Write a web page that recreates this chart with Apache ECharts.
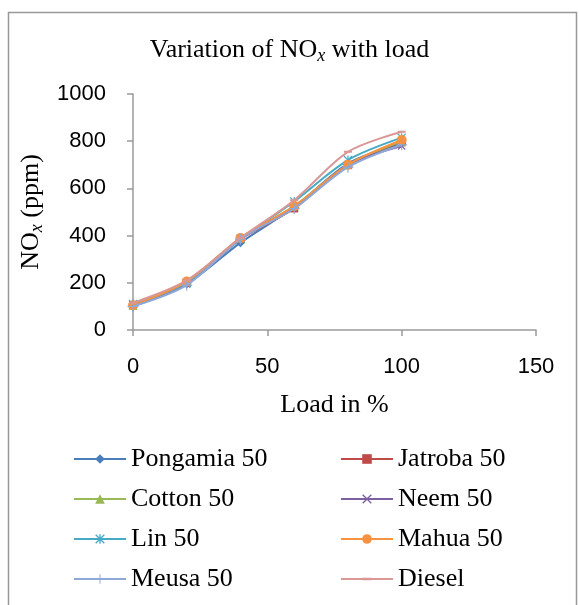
<!DOCTYPE html>
<html>
<head>
<meta charset="utf-8">
<script src="https://cdn.jsdelivr.net/npm/echarts@6/dist/echarts.min.js"></script>
<style>html,body{margin:0;padding:0;background:#fff;}#c{width:579px;height:605px;}</style>
</head>
<body>
<div id="c"></div>
<script>
var loads = [0, 20, 40, 60, 80, 100];
var seriesNames = ['Pongamia 50','Jatroba 50','Cotton 50','Neem 50','Lin 50','Mahua 50','Meusa 50','Diesel'];
var pongamia = [100, 195, 370, 520, 705, 790];
var jatroba  = [105, 200, 385, 515, 700, 795];
var cotton   = [105, 205, 390, 525, 700, 800];
var neem     = [105, 195, 390, 520, 700, 780];
var lin      = [110, 200, 385, 545, 720, 815];
var mahua    = [105, 205, 390, 525, 700, 805];
var meusa    = [100, 190, 385, 515, 690, 785];
var diesel   = [115, 210, 390, 550, 755, 840];
var xTicks = [0, 50, 100, 150];
var yTicks = [0, 200, 400, 600, 800, 1000];

var values = [pongamia, jatroba, cotton, neem, lin, mahua, meusa, diesel];
var colors = ['#4A7EBB','#BE4B48','#98B954','#7D60A0','#46AAC5','#F69240','#8EA8D8','#D99795'];
var X_PATH = 'path://M0,1L1,0L5,4L9,0L10,1L6,5L10,9L9,10L5,6L1,10L0,9L4,5Z';
var STAR_PATH = 'path://M0,1L1,0L5,4L9,0L10,1L6,5L10,9L9,10L5,6L1,10L0,9L4,5Z M4.3,0L5.7,0L5.7,3.6L4.3,3.6Z M4.3,6.4L5.7,6.4L5.7,10L4.3,10Z';
var PLUS_PATH = 'path://M4.5,0L5.5,0L5.5,4.5L10,4.5L10,5.5L5.5,5.5L5.5,10L4.5,10L4.5,5.5L0,5.5L0,4.5L4.5,4.5Z';
var DASH_PATH = 'path://M0,0L0.01,0L0,0.01Z M0,3.8L10,3.8L10,6.2L0,6.2Z M10,10L9.99,10L10,9.99Z';
var symbols = ['diamond','rect','triangle',X_PATH,STAR_PATH,'circle',PLUS_PATH,DASH_PATH];
var sizes = [9, 8, 9, 8, 9, 10, 11, 8];

var series = seriesNames.map(function(n, i){
  return {
    name: n, type: 'line', smooth: 0.3,
    data: loads.map(function(x, j){ return [x, values[i][j]]; }),
    symbol: symbols[i], symbolSize: sizes[i],
    lineStyle: { color: colors[i], width: 2 },
    itemStyle: { color: colors[i] },
    z: 2 + i
  };
});

var serif = 'Liberation Serif';
var plain = function(v){ return String(v); };
var chart = echarts.init(document.getElementById('c'));
chart.setOption({
  animation: false,
  backgroundColor: '#fff',
  graphic: [{ type: 'rect', shape: { x: 8.5, y: 12.5, width: 568, height: 610 }, style: { fill: 'none', stroke: '#999', lineWidth: 1.5 }, silent: true }],
  title: {
    text: 'Variation of NO{sub|x} with load',
    left: 'center', top: 30,
    textStyle: {
      fontFamily: serif, fontSize: 26, fontWeight: 'normal', color: '#000', lineHeight: 30,
      rich: { sub: { fontFamily: serif, fontSize: 18, fontStyle: 'italic', lineHeight: 20, verticalAlign: 'bottom', color: '#000' } }
    }
  },
  grid: { left: 133, right: 43, top: 94, bottom: 275 },
  xAxis: {
    type: 'value', min: 0, max: 150, interval: 50,
    name: 'Load in %', nameLocation: 'middle', nameGap: 62,
    nameTextStyle: { fontFamily: serif, fontSize: 26, color: '#000' },
    axisLine: { show: true, lineStyle: { color: '#9a9a9a', width: 1.5 } },
    axisTick: { show: true, length: 6, lineStyle: { color: '#9a9a9a', width: 1.5 } },
    axisLabel: { fontFamily: 'Liberation Sans', fontSize: 22, color: '#000', margin: 26, formatter: plain },
    splitLine: { show: false }
  },
  yAxis: {
    type: 'value', min: 0, max: 1000, interval: 200,
    name: 'NO{sub|x} (ppm)', nameLocation: 'middle', nameGap: 79,
    nameTextStyle: {
      fontFamily: serif, fontSize: 26, color: '#000', lineHeight: 30,
      rich: { sub: { fontFamily: serif, fontSize: 18, fontStyle: 'italic', lineHeight: 20, verticalAlign: 'bottom', color: '#000' } }
    },
    axisLine: { show: true, lineStyle: { color: '#9a9a9a', width: 1.5 } },
    axisTick: { show: true, length: 6, lineStyle: { color: '#9a9a9a', width: 1.5 } },
    axisLabel: { fontFamily: 'Liberation Sans', fontSize: 22, color: '#000', margin: 27, formatter: plain },
    splitLine: { show: false }
  },
  legend: [
    { data: seriesNames.filter(function(n, i){ return i % 2 === 0; }), orient: 'vertical', left: 68, top: 441,
      itemWidth: 52, itemHeight: 12, itemGap: 14,
      textStyle: { fontFamily: serif, fontSize: 26, color: '#000', lineHeight: 25 } },
    { data: seriesNames.filter(function(n, i){ return i % 2 === 1; }), orient: 'vertical', left: 335, top: 441,
      itemWidth: 52, itemHeight: 12, itemGap: 14,
      textStyle: { fontFamily: serif, fontSize: 26, color: '#000', lineHeight: 25 } }
  ],
  series: series
});
</script>
</body>
</html>
